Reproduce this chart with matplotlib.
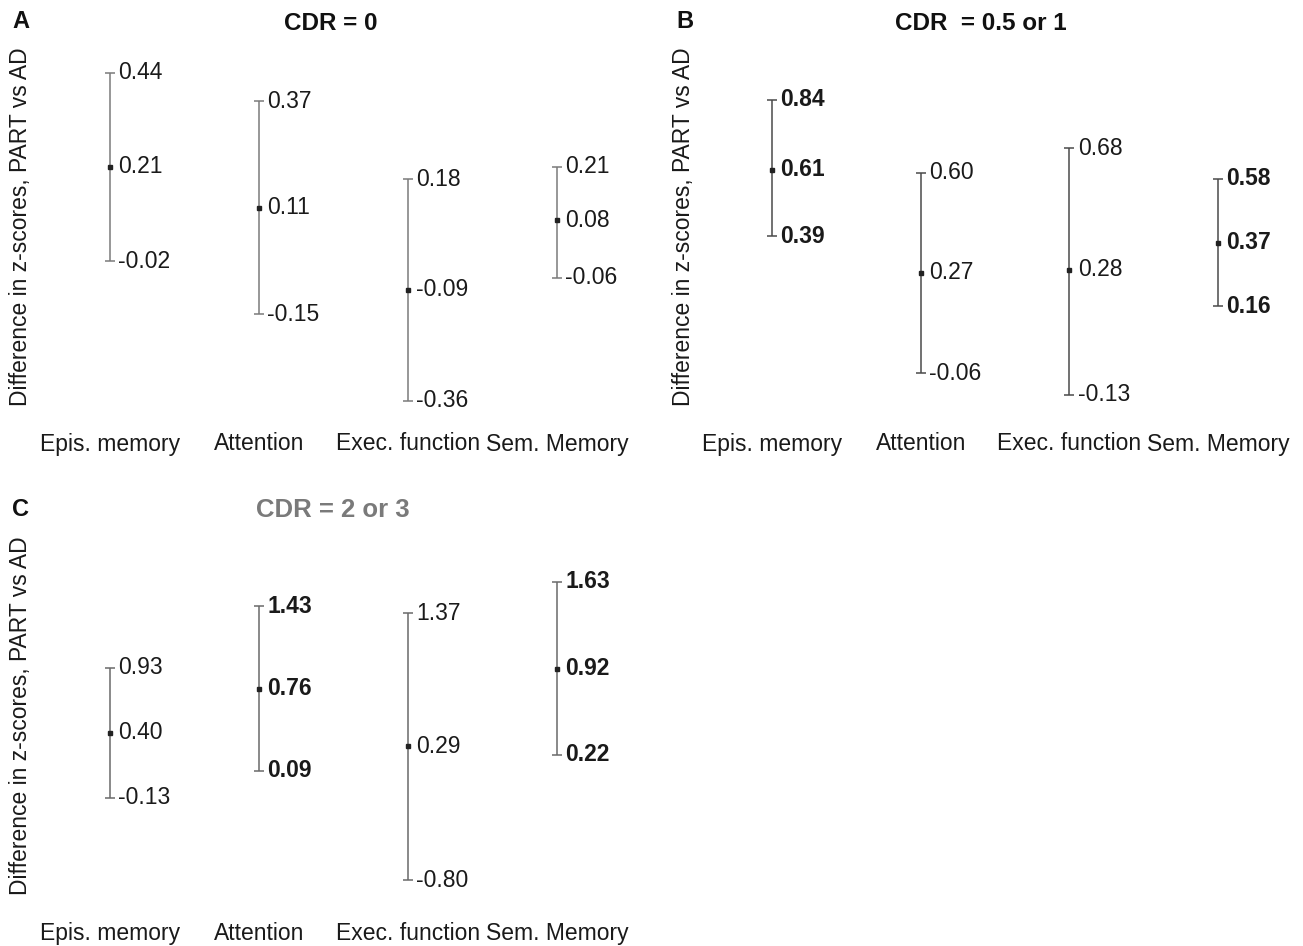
import numpy as np
import matplotlib
matplotlib.use("Agg")
import matplotlib.pyplot as plt

plt.rcParams['font.family'] = ['Liberation Sans', 'DejaVu Sans']

W, H = 1303, 946

categories = ["Epis. memory", "Attention", "Exec. function", "Sem. Memory"]

# CDR = 0
est_a = [0.21, 0.11, -0.09, 0.08]
low_a = [-0.02, -0.15, -0.36, -0.06]
high_a = [0.44, 0.37, 0.18, 0.21]
bold_a = [False, False, False, False]

# CDR = 0.5 or 1
est_b = [0.61, 0.27, 0.28, 0.37]
low_b = [0.39, -0.06, -0.13, 0.16]
high_b = [0.84, 0.60, 0.68, 0.58]
bold_b = [True, False, False, True]

# CDR = 2 or 3
est_c = [0.40, 0.76, 0.29, 0.92]
low_c = [-0.13, 0.09, -0.80, 0.22]
high_c = [0.93, 1.43, 1.37, 1.63]
bold_c = [False, True, False, True]

ylab = "Difference in z-scores, PART vs AD"
FS = 16.5

fig = plt.figure(figsize=(W / 100, H / 100), dpi=100)


def panel(box, x0, dx, zero, ppu, est, low, high, bold, lcolor, lab_y):
    left, top, right, bottom = box
    ax = fig.add_axes([left / W, 1 - bottom / H, (right - left) / W, (bottom - top) / H])
    ax.set_xlim((left - x0) / dx, (right - x0) / dx)
    ax.set_ylim((zero - bottom) / ppu, (zero - top) / ppu)
    x = np.arange(len(est))
    est = np.array(est)
    low = np.array(low)
    high = np.array(high)
    ax.errorbar(x, est, yerr=[est - low, high - est], fmt='s', color=lcolor,
                ecolor=lcolor, elinewidth=1.1, capsize=3.5, capthick=1.1,
                markersize=3.5, markerfacecolor='#222222', markeredgecolor='#222222')
    for i in range(len(est)):
        w = 'bold' if bold[i] else 'normal'
        for v in (low[i], est[i], high[i]):
            ax.annotate(f"{v:.2f}", (x[i], v), xytext=(6, 0), textcoords='offset points',
                        ha='left', va='center', fontsize=FS, fontweight=w, color='#1a1a1a')
    for i, c in enumerate(categories):
        ax.text(i, (zero - lab_y) / ppu, c, ha='center', va='center', fontsize=FS,
                color='#1a1a1a')
    ax.axis('off')
    return ax


panel((40, 45, 645, 425), 110, 149, 253, 410, est_a, low_a, high_a, bold_a, '#7a7a7a', 444)
panel((703, 45, 1300, 425), 772, 148.7, 355, 304, est_b, low_b, high_b, bold_b, '#4a4a4a', 444)
panel((40, 535, 645, 915), 110, 149, 782, 123, est_c, low_c, high_c, bold_c, '#6a6a6a', 933)

# y labels
for xp, yp in [(21, 227), (684, 227), (21, 716)]:
    fig.text(xp / W, 1 - yp / H, ylab, rotation=90, ha='center', va='center',
             fontsize=FS, color='#1a1a1a')

# panel letters and titles
for s, xp, yp in [("A", 12, 22), ("B", 676, 22), ("C", 12, 509)]:
    fig.text(xp / W, 1 - yp / H, s, ha='left', va='center', fontsize=17,
             fontweight='bold', color='#111111')
fig.text(331 / W, 1 - 23 / H, "CDR = 0", ha='center', va='center', fontsize=17.5,
         fontweight='bold', color='#111111')
fig.text(981 / W, 1 - 23 / H, "CDR  = 0.5 or 1", ha='center', va='center', fontsize=17.5,
         fontweight='bold', color='#111111')
fig.text(333 / W, 1 - 510 / H, "CDR = 2 or 3", ha='center', va='center', fontsize=18.5,
         fontweight='bold', color='#7a7a7a')

fig.savefig("out.png", dpi=100)
